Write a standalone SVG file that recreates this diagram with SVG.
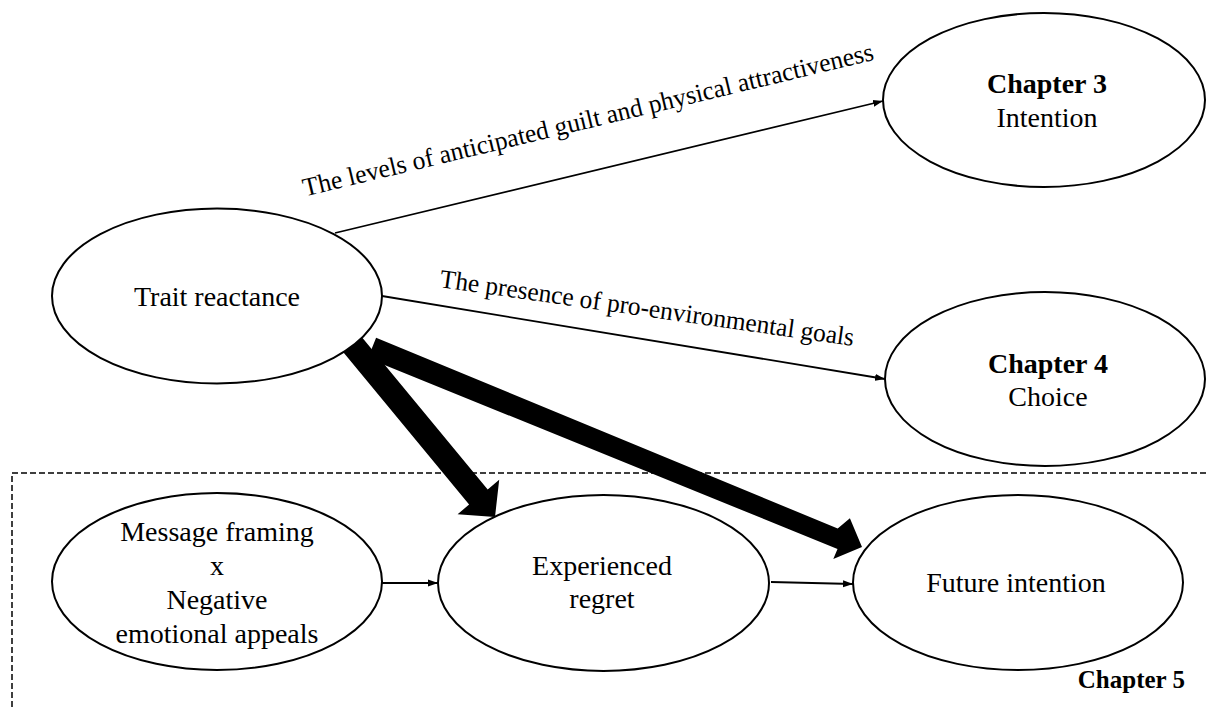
<svg xmlns="http://www.w3.org/2000/svg" width="1206" height="709" viewBox="0 0 1206 709">
<style>
.node{fill:#fff;stroke:#000;stroke-width:2}
.t{font-family:"Liberation Serif","Times New Roman",serif;font-size:28px;fill:#000;text-anchor:middle}
.b{font-weight:bold}
.lbl{font-family:"Liberation Serif","Times New Roman",serif;font-size:26px;fill:#000;text-anchor:middle}
.edge{stroke:#000;stroke-width:1.8;fill:none}
.thick{fill:#000;stroke:none}
.frame{fill:none;stroke:#000;stroke-width:1.5;stroke-dasharray:6 3}
</style>
<defs>
<marker id="ah" markerUnits="userSpaceOnUse" markerWidth="11" markerHeight="8" refX="10" refY="4" orient="auto">
<path d="M0,0.5 L10,4 L0,7.5 z" fill="#000"/>
</marker>
</defs>
<rect width="1206" height="709" fill="#fff"/>
<path class="frame" d="M1206,473 H12 V709"/>
<g id="connectors">
<line class="edge" x1="335" y1="233" x2="883" y2="101" marker-end="url(#ah)"/>
<line class="edge" x1="382" y1="296" x2="885" y2="379" marker-end="url(#ah)"/>
<line class="edge" x1="382" y1="583" x2="438" y2="583" marker-end="url(#ah)"/>
<line class="edge" x1="771" y1="582" x2="853" y2="584" marker-end="url(#ah)"/>
<polygon class="thick" points="361.3,336.4 487.7,489.4 499.2,479.8 495,517 457.6,514.2 469.1,504.6 342.7,351.6"/>
<polygon class="thick" points="376.1,337.8 837.7,528.5 849.9,518.3 862,547 833.3,559.1 837.5,548.9 367.9,358.2"/>
<text class="lbl" x="590" y="128" textLength="586" lengthAdjust="spacingAndGlyphs" transform="rotate(-13.5 590 128)">The levels of anticipated guilt and physical attractiveness</text>
<text class="lbl" x="646" y="316.5" textLength="418" lengthAdjust="spacingAndGlyphs" transform="rotate(8.1 646 316.5)">The presence of pro-environmental goals</text>
</g>
<g id="trait">
<ellipse class="node" cx="217" cy="296" rx="165" ry="87.5"/>
<text class="t" x="217" y="306">Trait reactance</text>
</g>
<g id="chapter3">
<ellipse class="node" cx="1044" cy="100" rx="161" ry="87"/>
<text class="t b" x="1047" y="93">Chapter 3</text>
<text class="t" x="1047" y="127">Intention</text>
</g>
<g id="chapter4">
<ellipse class="node" cx="1045" cy="379" rx="160" ry="87"/>
<text class="t b" x="1048" y="373">Chapter 4</text>
<text class="t" x="1048" y="406">Choice</text>
</g>
<g id="message">
<ellipse class="node" cx="217" cy="581.5" rx="165" ry="88.5"/>
<text class="t" x="217" y="541">Message framing</text>
<text class="t" x="217" y="575">x</text>
<text class="t" x="217" y="609">Negative</text>
<text class="t" x="217" y="643">emotional appeals</text>
</g>
<g id="regret">
<ellipse class="node" cx="603.5" cy="583" rx="165.5" ry="88"/>
<text class="t" x="602" y="575">Experienced</text>
<text class="t" x="602" y="608">regret</text>
</g>
<g id="future">
<ellipse class="node" cx="1018" cy="582.5" rx="165" ry="87.5"/>
<text class="t" x="1016" y="592">Future intention</text>
</g>
<g id="chapter5">
<text class="t b" x="1185" y="688" style="font-size:25px;text-anchor:end">Chapter 5</text>
</g>
</svg>
